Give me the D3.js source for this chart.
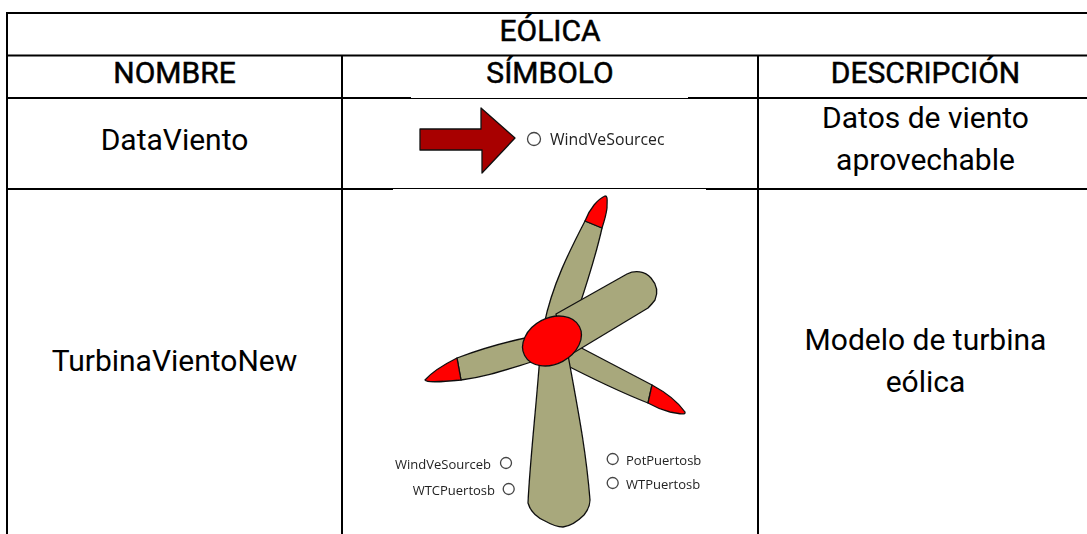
<!DOCTYPE html>
<html>
<head>
<meta charset="utf-8">
<script src="https://cdn.jsdelivr.net/npm/d3@7"></script>
<style>
  html, body { margin: 0; padding: 0; background: #fff; overflow: hidden; }
  svg { display: block; }
  text { font-family: Roboto, sans-serif; fill: #000; }
</style>
</head>
<body>
<script>
const w = 1087;
const h = 534;

// table content
const title = 'EÓLICA';
const columns = ['NOMBRE', 'SÍMBOLO', 'DESCRIPCIÓN'];
const names = ['DataViento', 'TurbinaVientoNew'];
const descriptions = [
  ['Datos de viento', 'aprovechable'],
  ['Modelo de turbina', 'eólica']
];

// grid edges, the table runs off the right side of the page
const xEdge = d3.scaleOrdinal().domain([0, 1, 2, 3]).range([7, 342, 758, 1093]);
const yEdge = d3.scaleOrdinal().domain([0, 1, 2, 3, 4]).range([13, 55.5, 98, 189, 534]);

const svg = d3.select('body').append('svg')
              .attr('width', w)
              .attr('height', h);

const grid = svg.append('g').attr('id', 'grid');

d3.range(4).forEach(i => {
  grid.append('line')
      .attr('x1', xEdge(0) - 1).attr('x2', xEdge(3))
      .attr('y1', yEdge(i)).attr('y2', yEdge(i))
      .attr('stroke', '#000').attr('stroke-width', 2);
});

[0, 1, 2].forEach(c => {
  grid.append('line')
      .attr('x1', xEdge(c)).attr('x2', xEdge(c))
      .attr('y1', c === 0 ? yEdge(0) : yEdge(1))
      .attr('y2', yEdge(4))
      .attr('stroke', '#000').attr('stroke-width', 2);
});

// the pasted pictures cover half of the row lines
grid.append('line')
    .attr('x1', 411).attr('x2', 688)
    .attr('y1', yEdge(2) - 0.5).attr('y2', yEdge(2) - 0.5)
    .attr('stroke', '#fff').attr('stroke-width', 1);
grid.append('line')
    .attr('x1', 393).attr('x2', 706)
    .attr('y1', yEdge(3) + 0.5).attr('y2', yEdge(3) + 0.5)
    .attr('stroke', '#fff').attr('stroke-width', 1);

const mid = (s, a) => (s(a) + s(a + 1)) / 2;
const fontSize = 30;

const label = (x, y, t, strong) => svg.append('text')
  .attr('x', x).attr('y', y)
  .attr('text-anchor', 'middle')
  .attr('font-size', fontSize)
  .attr('stroke', strong ? '#000' : 'none')
  .attr('stroke-width', strong ? 0.5 : 0)
  .text(t);

label(mid(xEdge, 1), mid(yEdge, 0) + 6.7, title, true);

columns.forEach((c, i) => label(mid(xEdge, i), mid(yEdge, 1) + 6.5, c, true));

const nameOffset = [6.5, 9.2];
names.forEach((n, i) => label(mid(xEdge, 0), mid(yEdge, i + 2) + nameOffset[i], n));

const descOffset = [5.6, 9.4];
descriptions.forEach((lines, i) => {
  lines.forEach((t, j) => {
    label(mid(xEdge, 2), mid(yEdge, i + 2) + descOffset[i] + (j - 0.5) * 41.6, t);
  });
});

// symbols: pasted screenshots in the original, so a little soft
const defs = svg.append('defs');
defs.append('filter').attr('id', 'soft')
    .append('feGaussianBlur').attr('stdDeviation', 0.45);
defs.append('filter').attr('id', 'softer')
    .append('feGaussianBlur').attr('stdDeviation', 0.6);

const sym = svg.append('g').attr('filter', 'url(#soft)');
const olive = '#a8a87c';
const red = '#ff0000';

const shape = (d, fill) => sym.append('path')
  .attr('d', d)
  .attr('fill', fill)
  .attr('stroke', '#111')
  .attr('stroke-width', 1.3)
  .attr('stroke-linejoin', 'round');

const port = (cx, cy, r) => sym.append('circle')
  .attr('cx', cx).attr('cy', cy).attr('r', r)
  .attr('fill', '#fff')
  .attr('stroke', '#444')
  .attr('stroke-width', 1.3);

const portText = (x, y, t, anchor, size, filter) => svg.append('text')
  .attr('x', x).attr('y', y)
  .attr('text-anchor', anchor)
  .attr('dominant-baseline', 'central')
  .attr('font-size', size)
  .attr('filter', filter)
  .style('font-family', 'Open Sans, sans-serif')
  .style('fill', '#222')
  .text(t);

// arrow
shape('M420,129 L481,129 L481,108 L515,138 L482,173 L482,150 L420,150 Z', '#a80000');
port(534, 139, 6.5);
portText(550, 139, 'WindVeSourcec', 'start', 15.8, 'url(#soft)');

// blades
shape('M544,325 C552,285 570,250 585,221 L602,228 C596,255 588,280 578,310 Z', olive);
shape('M585,221 C590,208 598,199 605,196 C608,196 607,200 607,208 C606,216 604,222 602,228 Z', red);

shape('M530,337 C500,343 478,350 457,358 L461,380 C485,377 505,370 535,361 Z', olive);
shape('M457,358 C443,365 432,372 425,380 C427,383 440,382 461,380 Z', red);

shape('M570,342 L652,385 L648,403 C620,392 595,380 560,362 Z', olive);
shape('M652,385 C665,392 678,402 685,412 C686,415 680,414 670,412 C662,410 655,407 648,403 Z', red);

shape('M540,355 C536,410 530,460 528,503 C530,510 536,517 545,521 C552,525 558,527 563,527 C570,526 578,521 584,515 C588,510 590,505 590,500 C586,450 578,410 568,355 Z', olive);

shape('M556,314 L627,274 C635,270 645,271 651,278 C657,285 658,293 655,300 C652,304 650,306 648,308 L565,358 Z', olive);

sym.append('ellipse')
   .attr('transform', 'translate(552,341) rotate(-28)')
   .attr('rx', 31).attr('ry', 23)
   .attr('fill', red)
   .attr('stroke', '#111')
   .attr('stroke-width', 1.3);

// ports of the turbine
port(506, 463, 5.5);
port(508.7, 489, 5.5);
port(612.7, 459, 5.5);
port(612.7, 483, 5.5);
portText(491, 464, 'WindVeSourceb', 'end', 13, 'url(#softer)');
portText(495, 490, 'WTCPuertosb', 'end', 13, 'url(#softer)');
portText(626, 460, 'PotPuertosb', 'start', 13, 'url(#softer)');
portText(626, 484, 'WTPuertosb', 'start', 13, 'url(#softer)');
</script>
</body>
</html>
